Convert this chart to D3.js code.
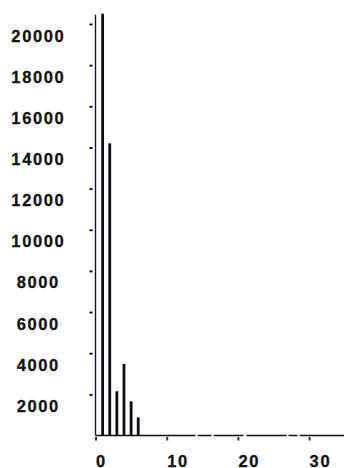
<!DOCTYPE html>
<html>
<head>
<meta charset="utf-8">
<script src="https://cdn.jsdelivr.net/npm/d3@7"></script>
<style>
  html, body { margin: 0; padding: 0; background: #fff; }
  svg { display: block; }
</style>
</head>
<body>
<svg id="chart" width="344" height="468"></svg>
<script>
// Frequency counts per class
const classes = [1, 2, 3, 4, 5, 6];
const counts  = [20500, 14200, 2150, 3480, 1660, 880];

const yTickValues = [2000, 4000, 6000, 8000, 10000, 12000, 14000, 16000, 18000, 20000];
const xTickValues = [0, 10, 20, 30];

const W = 344, H = 468;
const svg = d3.select("#chart");

const x = d3.scaleLinear().domain([0, 35]).range([95.5, 344.7]);
const y = d3.scaleLinear().domain([0, 20000]).range([435.5, 24]);

const ink = "#0d0d1c";
const fmt = d3.format("d");

function styleLabels(sel) {
  sel.attr("font-family", "'Liberation Sans', Arial, sans-serif")
     .attr("font-weight", "bold")
     .attr("font-size", 16.5)
     .attr("letter-spacing", "1.6px")
     .attr("fill", "#121212")
     .attr("stroke", "#121212")
     .attr("stroke-width", 0.3);
}

// baseline along the x axis, broken by a few short gaps
svg.append("line")
  .attr("x1", x(0)).attr("x2", W)
  .attr("y1", y(0)).attr("y2", y(0))
  .attr("stroke", "#0e0e1e").attr("stroke-width", 1.5)
  .attr("stroke-dasharray", "100,2,14,2,30,3,40,2,9,2,55,2,4,3,45,2,7,2");

// bars
svg.append("g")
  .selectAll("rect")
  .data(classes.map((c, i) => ({ c, v: counts[i] })))
  .join("rect")
  .attr("x", d => x(d.c) - 1.4)
  .attr("width", 2.8)
  .attr("y", d => y(d.v))
  .attr("height", d => y(0) - y(d.v))
  .attr("fill", ink);

// y axis
const gy = svg.append("g")
  .attr("transform", `translate(${x(0)},0)`)
  .call(d3.axisLeft(y).tickValues(yTickValues).tickFormat(fmt).tickSize(6).tickSizeOuter(0))
  .attr("font-size", null).attr("font-family", null);
gy.select(".domain").remove();
gy.selectAll(".tick line")
  .attr("x1", -3).attr("x2", -6)
  .attr("stroke", ink).attr("stroke-width", 2);
gy.selectAll(".tick text")
  .attr("x", -57.2)
  .attr("dy", 17)
  .attr("text-anchor", "middle")
  .call(styleLabels);

svg.append("line")
  .attr("x1", x(0)).attr("x2", x(0))
  .attr("y1", y(20450)).attr("y2", y(0))
  .attr("stroke", "#14143a").attr("stroke-width", 1.4);

// x axis
const gx = svg.append("g")
  .attr("transform", `translate(0,${y(0)})`)
  .call(d3.axisBottom(x).tickValues(xTickValues).tickFormat(fmt).tickSize(5).tickSizeOuter(0))
  .attr("font-size", null).attr("font-family", null);
gx.select(".domain").remove();
gx.selectAll(".tick line")
  .attr("y1", 1.5).attr("y2", 5)
  .attr("stroke", "#333").attr("stroke-width", 2);
gx.selectAll(".tick text")
  .attr("y", 31).attr("dy", 0)
  .attr("text-anchor", "start")
  .call(styleLabels);
</script>
</body>
</html>
